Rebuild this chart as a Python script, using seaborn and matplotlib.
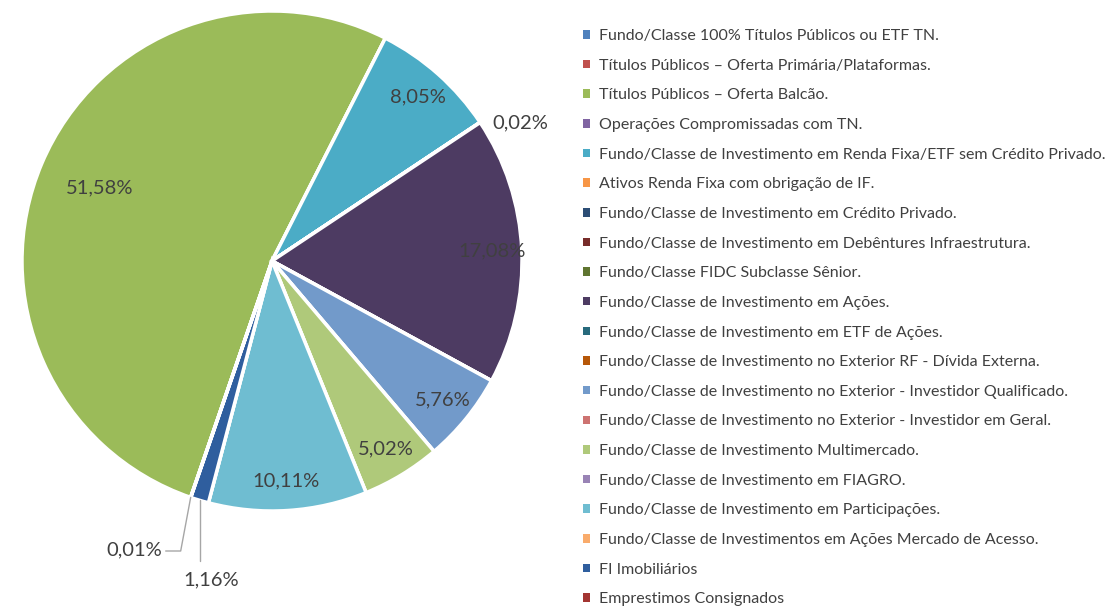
import numpy as np
import seaborn as sns
import matplotlib.pyplot as plt
from matplotlib.patches import Patch

# Data
categories = [
    "Fundo/Classe 100% Títulos Públicos ou ETF TN.",
    "Títulos Públicos – Oferta Primária/Plataformas.",
    "Títulos Públicos – Oferta Balcão.",
    "Operações Compromissadas com TN.",
    "Fundo/Classe de Investimento em Renda Fixa/ETF sem Crédito Privado.",
    "Ativos Renda Fixa com obrigação de IF.",
    "Fundo/Classe de Investimento em Crédito Privado.",
    "Fundo/Classe de Investimento em Debêntures Infraestrutura.",
    "Fundo/Classe FIDC Subclasse Sênior.",
    "Fundo/Classe de Investimento em Ações.",
    "Fundo/Classe de Investimento em ETF de Ações.",
    "Fundo/Classe de Investimento no Exterior RF - Dívida Externa.",
    "Fundo/Classe de Investimento no Exterior - Investidor Qualificado.",
    "Fundo/Classe de Investimento no Exterior - Investidor em Geral.",
    "Fundo/Classe de Investimento Multimercado.",
    "Fundo/Classe de Investimento em FIAGRO.",
    "Fundo/Classe de Investimento em Participações.",
    "Fundo/Classe de Investimentos em Ações Mercado de Acesso.",
    "FI Imobiliários",
    "Emprestimos Consignados",
]
shares = [0, 0, 51.58, 0, 8.05, 0.02, 0, 0, 0, 17.08,
          0, 0, 5.76, 0, 5.02, 0, 10.11, 0, 1.16, 0.01]
colors = ["#4F81BD", "#C0504D", "#9BBB59", "#8064A2", "#4BACC6", "#F79646",
          "#2C4D75", "#772C2A", "#5F7530", "#4D3B62", "#276A7C", "#B65708",
          "#729ACA", "#CD7371", "#AFC97A", "#9983B5", "#6FBDD1", "#F9AB6B",
          "#2F5E9E", "#A33532"]

sns.set_theme(style="white")
plt.rcParams["font.family"] = ["Lato", "DejaVu Sans"]
text_color = "#404040"
line_color = "#A6A6A6"

W, H = 1116, 607
fig = plt.figure(figsize=(W / 100, H / 100), dpi=100)
cx, cy, r = 272, 261, 250
ax = fig.add_axes([(cx - r) / W, (H - cy - r) / H, 2 * r / W, 2 * r / H])

wedges, _ = ax.pie(shares, colors=colors, startangle=251, counterclock=False,
                   wedgeprops=dict(edgecolor="white", linewidth=2.5))
ax.set_xlim(-1, 1)
ax.set_ylim(-1, 1)
ax.set_aspect("equal")
ax.axis("off")

total = sum(shares)
lbl = dict(fontsize=14.5, color=text_color)
for w, v in zip(wedges, shares):
    if v == 0:
        continue
    txt = f"{v:.2f}%".replace(".", ",")
    mid = np.deg2rad((w.theta1 + w.theta2) / 2)
    ux, uy = np.cos(mid), np.sin(mid)
    frac = v / total
    if frac > 0.5:
        ax.text(0.75 * ux, 0.75 * uy, txt, ha="center", va="center", **lbl)
    elif frac > 0.03:
        ax.text(0.88 * ux, 0.88 * uy, txt, ha="center", va="center", **lbl)
    elif uy > 0:
        # small slice up top: label just outside
        ax.text(1.06 * ux, 1.06 * uy, txt, ha="left", va="top", **lbl)
    elif v > 0.5:
        # leader straight down
        ax.plot([ux, ux], [uy, -1.2], color=line_color, lw=1, clip_on=False)
        ax.text(ux + 0.045, -1.276, txt, ha="center", va="center", **lbl)
    else:
        ax.plot([ux, ux - 0.04, ux - 0.10], [uy, -1.16, -1.16],
                color=line_color, lw=1, clip_on=False)
        ax.text(ux - 0.115, -1.155, txt, ha="right", va="center", **lbl)

handles = [Patch(facecolor=c, edgecolor="none") for c in colors]
fig.legend(handles, categories, loc="upper left",
           bbox_to_anchor=(583 / W, 1 - 29 / H), frameon=False,
           fontsize=11.5, labelcolor=text_color, handlelength=0.45,
           handleheight=0.45, handletextpad=0.55, labelspacing=0.98,
           borderpad=0, borderaxespad=0)

fig.savefig("out.png", dpi=100)
